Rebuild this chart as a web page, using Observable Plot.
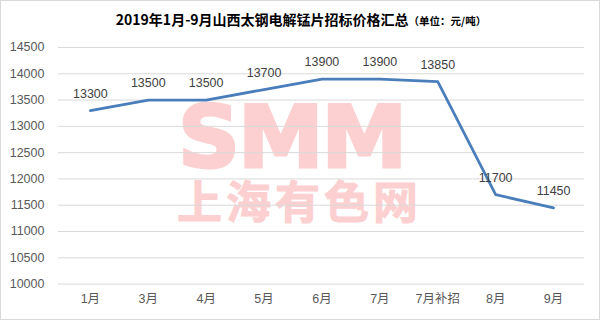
<!DOCTYPE html>
<html>
<head>
<meta charset="utf-8">
<script src="https://cdn.jsdelivr.net/npm/d3@7"></script>
<script src="https://cdn.jsdelivr.net/npm/@observablehq/plot@0.6"></script>
<style>
  html, body { margin: 0; padding: 0; background: #fff; }
  #wrap { position: relative; width: 600px; height: 320px; box-sizing: border-box; border: 1px solid #d9d9d9; background: #fff; overflow: hidden; }
  #title { position: absolute; left: 0; top: 8px; width: 600px; text-align: center; font-family: "Noto Sans CJK SC", sans-serif; font-weight: bold; font-size: 14px; color: #000; line-height: 20px; }
  #title .unit { font-size: 10.5px; }
  .wm { position: absolute; color: #fcd0d0; white-space: nowrap; }
  #wm1 { left: 177px; top: 103px; font-family: "DejaVu Sans", sans-serif; font-weight: bold; font-size: 86px; line-height: 66px; letter-spacing: -2px; -webkit-text-stroke: 3px #fcd0d0; }
  #wm2 { left: 176px; top: 177px; font-family: "Noto Sans CJK SC", sans-serif; font-weight: bold; font-size: 45px; line-height: 44px; letter-spacing: 4px; -webkit-text-stroke: 1px #fcd0d0; }
  #chart { position: absolute; left: -1px; top: 35px; }
  #chart svg { background: transparent !important; }
</style>
</head>
<body>
<div id="wrap">
  <div class="wm" id="wm1">SMM</div>
  <div class="wm" id="wm2">上海有色网</div>
  <div id="title">2019年1月-9月山西太钢电解锰片招标价格汇总<span class="unit">（单位：元/吨）</span></div>
  <div id="chart"></div>
</div>
<script>
const months = ["1月", "3月", "4月", "5月", "6月", "7月", "7月补招", "8月", "9月"];
const prices = [13300, 13500, 13500, 13700, 13900, 13900, 13850, 11700, 11450];
const yTicks = [10000, 10500, 11000, 11500, 12000, 12500, 13000, 13500, 14000, 14500];

const data = months.map((m, i) => ({month: m, price: prices[i]}));

const chart = Plot.plot({
  width: 600,
  height: 283,
  marginTop: 11,
  marginBottom: 35,
  marginLeft: 58,
  marginRight: 15,
  style: {fontFamily: "'Liberation Sans', 'Noto Sans CJK SC', sans-serif", fontSize: "12.5px", background: "transparent"},
  x: {type: "point", domain: months, padding: 0.5, label: null},
  y: {domain: [10000, 14500], label: null},
  marks: [
    Plot.gridY(yTicks, {stroke: "#d9d9d9", strokeOpacity: 1, strokeWidth: 1}),
    Plot.axisY(yTicks, {tickSize: 0, tickPadding: 14, fill: "#595959", fontSize: 12.5, tickFormat: d => String(d)}),
    Plot.axisX({tickSize: 0, tickPadding: 10, fill: "#595959", fontSize: 12.5}),
    Plot.line(data, {x: "month", y: "price", stroke: "#4a7ebb", strokeWidth: 2.75, strokeLinejoin: "round", strokeLinecap: "round"}),
    Plot.text(data, {x: "month", y: "price", text: d => String(d.price), dy: -17, fill: "#404040", fontSize: 12.5})
  ]
});
document.getElementById("chart").appendChild(chart);
</script>
</body>
</html>
